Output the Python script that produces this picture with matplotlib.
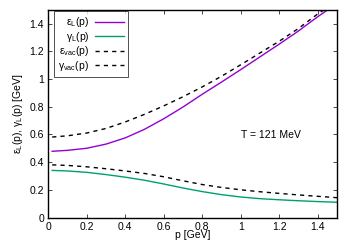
import matplotlib
matplotlib.use("Agg")
import matplotlib.pyplot as plt

p = [0.02, 0.1, 0.2, 0.3, 0.4, 0.5, 0.6, 0.7, 0.8, 0.9, 1.0, 1.1, 1.2, 1.3, 1.4, 1.5]
eps_L = [0.478, 0.485, 0.50, 0.53, 0.575, 0.637, 0.713, 0.798, 0.89, 0.978, 1.068, 1.16, 1.252, 1.347, 1.45, 1.545]
gam_L = [0.340, 0.336, 0.326, 0.31, 0.291, 0.269, 0.242, 0.213, 0.187, 0.165, 0.148, 0.136, 0.128, 0.121, 0.115, 0.110]
eps_vac = [0.581, 0.59, 0.61, 0.643, 0.69, 0.745, 0.806, 0.872, 0.943, 1.02, 1.103, 1.188, 1.273, 1.365, 1.47, 1.56]
gam_vac = [0.380, 0.376, 0.366, 0.352, 0.336, 0.318, 0.294, 0.265, 0.238, 0.217, 0.200, 0.186, 0.174, 0.163, 0.153, 0.143]

xticks = [0, 0.2, 0.4, 0.6, 0.8, 1, 1.2, 1.4]
yticks = [0, 0.2, 0.4, 0.6, 0.8, 1, 1.2, 1.4]
xticklabels = ["0", "0.2", "0.4", "0.6", "0.8", "1", "1.2", "1.4"]
yticklabels = ["0", "0.2", "0.4", "0.6", "0.8", "1", "1.2", "1.4"]

plt.rcParams['font.family'] = ['Liberation Sans', 'DejaVu Sans']
plt.rcParams['mathtext.fontset'] = 'custom'
plt.rcParams['mathtext.rm'] = 'Liberation Sans'
fig = plt.figure(figsize=(3.56, 2.49), dpi=100)
ax = fig.add_axes([0.1357, 0.1265, 0.8109, 0.8343])

ax.plot(p, eps_L, color='#9400d3', lw=1.0, label=r'$\mathregular{ε_L}$(p)')
ax.plot(p, gam_L, color='#009e73', lw=1.0, label=r'$\mathregular{γ_L}$(p)')
ax.plot(p, eps_vac, color='black', lw=1.0, ls=(0, (3, 3)), label=r'$\mathregular{ε_{vac}}$(p)')
ax.plot(p, gam_vac, color='black', lw=1.0, ls=(0, (3, 3)), label=r'$\mathregular{γ_{vac}}$(p)')

ax.set_xlim(0, 1.5)
ax.set_ylim(0, 1.5)
ax.set_xticks(xticks)
ax.set_xticklabels(xticklabels)
ax.set_yticks(yticks)
ax.set_yticklabels(yticklabels)
ax.tick_params(direction='in', top=True, right=True, labelsize=7.5, length=3, width=0.5, pad=3)
for s in ax.spines.values():
    s.set_linewidth(1.0)

ax.set_xlabel('p [GeV]', fontsize=7.5, labelpad=-1)
ax.set_ylabel(r'$\mathregular{ε_L}$(p), $\mathregular{γ_L}$(p) [GeV]', fontsize=7.5, labelpad=3)

ax.text(1.155, 0.596, 'T = 121 MeV', fontsize=7.5, ha='center', va='center')

leg = ax.legend(loc='upper left', bbox_to_anchor=(0.02, 0.994), fontsize=7.5, markerfirst=False,
                frameon=True, fancybox=False, edgecolor='black', handlelength=2.7,
                handletextpad=0.6, borderpad=0.4, labelspacing=0.05, borderaxespad=0)
leg.get_frame().set_linewidth(0.6)

fig.savefig('out.png', dpi=100)
